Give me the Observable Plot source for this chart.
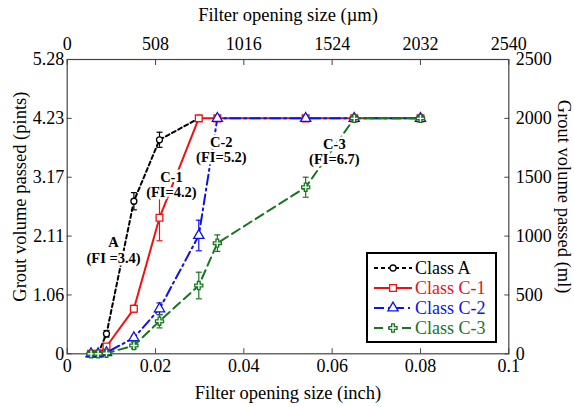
<!DOCTYPE html>
<html><head><meta charset="utf-8">
<script src="https://cdn.jsdelivr.net/npm/d3@7"></script>
<script src="https://cdn.jsdelivr.net/npm/@observablehq/plot@0.6"></script>
<style>
body{margin:0;background:#fff;}
#wrap{position:relative;width:574px;height:407px;}
#legend{position:absolute;left:366px;top:252px;}
</style></head><body><div id="wrap"></div>
<script>
// ---- data (x in inch, y in ml) ----
const seriesNames = ["Class A", "Class C-1", "Class C-2", "Class C-3"];
const classA_x = [0.0054, 0.0070, 0.0089, 0.0151, 0.0209, 0.0298];
const classA_y = [0, 0, 170, 1296, 1818, 2000];
const classA_err = [0, 0, 28, 73, 64, 0];
const classC1_x = [0.0054, 0.0070, 0.0089, 0.0151, 0.0209, 0.0298, 0.0340, 0.0540, 0.0650, 0.0800];
const classC1_y = [0, 0, 62, 382, 1155, 2000, 2000, 2000, 2000, 2000];
const classC1_err = [0, 0, 15, 30, 195, 0, 0, 0, 0, 0];
const classC2_x = [0.0054, 0.0070, 0.0089, 0.0151, 0.0209, 0.0298, 0.0340, 0.0540, 0.0650, 0.0800];
const classC2_y = [0, 0, 10, 136, 382, 1005, 2000, 2000, 2000, 2000];
const classC2_err = [0, 0, 0, 20, 50, 130, 0, 0, 0, 0];
const classC3_x = [0.0054, 0.0070, 0.0089, 0.0151, 0.0209, 0.0298, 0.0340, 0.0540, 0.0650, 0.0800];
const classC3_y = [0, 0, 5, 70, 277, 580, 940, 1415, 2000, 2000];
const classC3_err = [0, 0, 0, 28, 57, 113, 70, 85, 0, 0];

const xTicks = [0, 0.02, 0.04, 0.06, 0.08, 0.1];
const xTickLabels = ["0", "0.02", "0.04", "0.06", "0.08", "0.1"];
const topTickLabels = ["0", "508", "1016", "1524", "2032", "2540"];
const yTicks = [0, 500, 1000, 1500, 2000, 2500];
const pintTickLabels = ["0", "1.06", "2.11", "3.17", "4.23", "5.28"];
const mlTickLabels = ["0", "500", "1000", "1500", "2000", "2500"];

const annotLabels = ["A\n(FI =3.4)", "C-1\n(FI=4.2)", "C-2\n(FI=5.2)", "C-3\n(FI=6.7)"];
const annotX = [0.0105, 0.0236, 0.0349, 0.0605];
const annotY = [880, 1438, 1735, 1718];

// ---- styles ----
const colors = ["#000000", "#ee1111", "#1010ee", "#17761f"];
const dashes = ["4,3", null, "10,4,2,4", "9,5"];
const symbols = ["circle", "square", "triangle", "cross"];
const radii = [3, 3.8, 3.8, 3.4];

const allX = [classA_x, classC1_x, classC2_x, classC3_x];
const allY = [classA_y, classC1_y, classC2_y, classC3_y];
const allE = [classA_err, classC1_err, classC2_err, classC3_err];

const series = seriesNames.map((name, s) => allX[s].map((x, i) => ({name, x, y: allY[s][i], err: allE[s][i]})));
const annots = annotLabels.map((t, i) => ({t, x: annotX[i], y: annotY[i]}));

const capSymbol = {draw(ctx) { ctx.moveTo(-3, 0); ctx.lineTo(3, 0); }};
const font = "Liberation Serif";

const marks = [];
series.forEach((rows, s) => {
  const eb = rows.filter(d => d.err > 0);
  marks.push(Plot.line(rows, {x: "x", y: "y", stroke: colors[s], strokeWidth: 2, strokeDasharray: dashes[s]}));
  marks.push(Plot.ruleX(eb, {x: "x", y1: d => d.y - d.err, y2: d => d.y + d.err, stroke: colors[s], strokeWidth: 1.2}));
  marks.push(Plot.dot(eb, {x: "x", y: d => d.y - d.err, symbol: capSymbol, stroke: colors[s], strokeWidth: 1.2}));
  marks.push(Plot.dot(eb, {x: "x", y: d => d.y + d.err, symbol: capSymbol, stroke: colors[s], strokeWidth: 1.2}));
  marks.push(Plot.dot(rows, {x: "x", y: "y", symbol: symbols[s], r: radii[s], stroke: colors[s], fill: "white", strokeWidth: 1.3}));
});

const axisOpts = {label: null, stroke: "#444", fontSize: 18, fontFamily: font, tickSize: -5};
const titleOpts = {text: d => d, fontSize: 18.5, fontFamily: font, textAnchor: "middle", lineAnchor: "middle"};

const chart = Plot.plot({
  width: 574, height: 407,
  marginLeft: 66.7, marginRight: 65.7, marginTop: 59, marginBottom: 53.7,
  style: {fontFamily: font, fontSize: "18px", background: "white", color: "black"},
  x: {domain: [0, 0.1]},
  y: {domain: [0, 2500]},
  marks: [
    Plot.axisX({...axisOpts, anchor: "bottom", ticks: xTicks, tickFormat: d => xTickLabels[xTicks.indexOf(d)], tickPadding: 10}),
    Plot.axisX({...axisOpts, anchor: "top", ticks: xTicks, tickFormat: d => topTickLabels[xTicks.indexOf(d)], tickPadding: 15}),
    Plot.axisY({...axisOpts, anchor: "left", ticks: yTicks, tickFormat: d => pintTickLabels[yTicks.indexOf(d)], tickPadding: 8}),
    Plot.axisY({...axisOpts, anchor: "right", ticks: yTicks, tickFormat: d => mlTickLabels[yTicks.indexOf(d)], tickPadding: 12}),
    Plot.frame({stroke: "#444", strokeWidth: 1.2}),
    ...marks,
    Plot.text(annots, {x: "x", y: "y", text: "t", fontFamily: font, fontWeight: "bold", fontSize: 14.5, lineHeight: 1.05, fill: "black", stroke: "white", strokeWidth: 5}),
    Plot.text(["Filter opening size (inch)"], {...titleOpts, frameAnchor: "bottom", dy: 39}),
    Plot.text(["Filter opening size (\u00b5m)"], {...titleOpts, frameAnchor: "top", dy: -44}),
    Plot.text(["Grout volume passed (pints)"], {...titleOpts, frameAnchor: "left", rotate: -90, dx: -47, dy: -10}),
    Plot.text(["Grout volume passed (ml)"], {...titleOpts, frameAnchor: "right", rotate: 90, dx: 55, dy: -10})
  ]
});
const wrap = document.getElementById("wrap");
wrap.appendChild(chart);

// ---- legend ----
const lw = 131, lh = 91;
const lg = d3.select(wrap).append("svg").attr("id", "legend").attr("width", lw).attr("height", lh);
lg.append("rect").attr("x", 1).attr("y", 1).attr("width", lw - 2).attr("height", lh - 2)
  .attr("fill", "white").attr("stroke", "black").attr("stroke-width", 2);
const symMap = {circle: d3.symbolCircle, square: d3.symbolSquare, triangle: d3.symbolTriangle, cross: d3.symbolCross};
seriesNames.forEach((name, s) => {
  const cy = 16 + s * 20;
  lg.append("line").attr("x1", 8).attr("x2", 46).attr("y1", cy).attr("y2", cy)
    .attr("stroke", colors[s]).attr("stroke-width", 2).attr("stroke-dasharray", dashes[s]);
  lg.append("path").attr("transform", `translate(27,${cy})`)
    .attr("d", d3.symbol(symMap[symbols[s]], Math.PI * radii[s] * radii[s])())
    .attr("fill", "white").attr("stroke", colors[s]).attr("stroke-width", 1.3);
  lg.append("text").attr("x", 49).attr("y", cy).attr("dy", "0.35em")
    .attr("font-family", font).attr("font-size", 18).attr("fill", colors[s]).text(name);
});
</script>
</body></html>
